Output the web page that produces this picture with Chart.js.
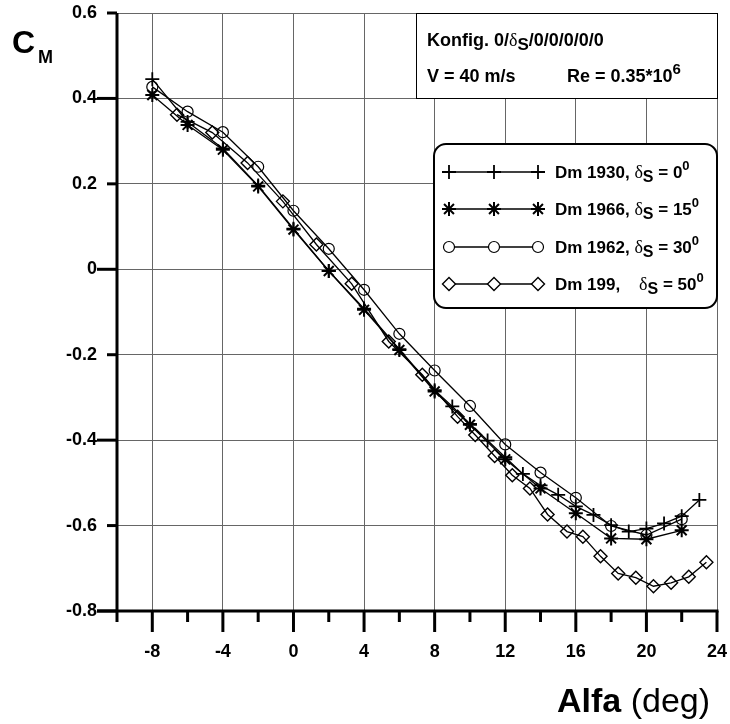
<!DOCTYPE html>
<html>
<head>
<meta charset="utf-8">
<script src="https://cdn.jsdelivr.net/npm/chart.js@4.4.1/dist/chart.umd.min.js"></script>
<style>
  html, body { margin: 0; padding: 0; background: #ffffff; }
  #wrap { width: 730px; height: 724px; }
</style>
</head>
<body>
<div id="wrap"><canvas id="cmChart" width="730" height="724"></canvas></div>
<script>
// Angle of attack (deg) and moment coefficient C_M per configuration
const alpha1930 = [-8, -6, -4, -2, 0, 2, 4, 6, 8, 9, 10, 11, 12, 13, 14, 15, 16, 17, 18, 19, 20, 21, 22, 23];
const cm1930 = [0.445, 0.345, 0.283, 0.196, 0.095, -0.004, -0.092, -0.187, -0.283, -0.321, -0.362, -0.401,
  -0.440, -0.479, -0.506, -0.528, -0.555, -0.575, -0.599, -0.614, -0.607, -0.595, -0.578, -0.540];

const alpha1966 = [-8, -6, -4, -2, 0, 2, 4, 6, 8, 10, 12, 14, 16, 18, 20, 22];
const cm1966 = [0.408, 0.338, 0.280, 0.194, 0.093, -0.004, -0.095, -0.189, -0.286, -0.364, -0.445,
  -0.513, -0.571, -0.630, -0.632, -0.611];

const alpha1962 = [-8, -6, -4, -2, 0, 2, 4, 6, 8, 10, 12, 14, 16, 18, 20, 22];
const cm1962 = [0.427, 0.369, 0.321, 0.240, 0.137, 0.048, -0.048, -0.151, -0.237, -0.320, -0.410,
  -0.476, -0.535, -0.601, -0.622, -0.585];

const alpha199 = [-6.6, -4.6, -2.6, -0.6, 1.3, 3.3, 5.4, 7.3, 9.3, 10.3, 11.4, 12.4, 13.4, 14.4, 15.5,
  16.4, 17.4, 18.4, 19.4, 20.4, 21.4, 22.4, 23.4];
const cm199 = [0.362, 0.320, 0.249, 0.159, 0.058, -0.034, -0.169, -0.247, -0.345, -0.388, -0.437, -0.482,
  -0.513, -0.574, -0.614, -0.626, -0.672, -0.712, -0.722, -0.742, -0.734, -0.720, -0.686];

const seriesNames = ["Dm 1930,", "Dm 1966,", "Dm 1962,", "Dm 199,   "];
const seriesDelta = ["0", "15", "30", "50"];

const xTicks = [-8, -4, 0, 4, 8, 12, 16, 20, 24];

function pts(xs, ys) {
  return xs.map((x, i) => ({ x: x, y: ys[i] }));
}

const SANS = "'Liberation Sans', Arial, sans-serif";
const SERIF = "'Liberation Serif', 'Times New Roman', serif";

function mkSet(label, xs, ys, style, r, lw) {
  return {
    label: label,
    data: pts(xs, ys),
    borderColor: "#000000",
    borderWidth: 1.3,
    pointStyle: style,
    pointRadius: r,
    pointHoverRadius: r,
    pointBorderColor: "#000000",
    pointBackgroundColor: "rgba(0,0,0,0)",
    pointBorderWidth: lw,
    showLine: true,
    fill: false,
    tension: 0,
  };
}

// draw a run of text pieces: [text, font, dy]
function drawRun(ctx, x, y, parts) {
  ctx.textBaseline = "alphabetic";
  ctx.textAlign = "left";
  parts.forEach((p) => {
    ctx.font = p[1];
    ctx.fillText(p[0], x, y + (p[2] || 0));
    x += ctx.measureText(p[0]).width;
  });
  return x;
}

function roundRect(ctx, x, y, w, h, r) {
  ctx.beginPath();
  ctx.moveTo(x + r, y);
  ctx.lineTo(x + w - r, y);
  ctx.arcTo(x + w, y, x + w, y + r, r);
  ctx.lineTo(x + w, y + h - r);
  ctx.arcTo(x + w, y + h, x + w - r, y + h, r);
  ctx.lineTo(x + r, y + h);
  ctx.arcTo(x, y + h, x, y + h - r, r);
  ctx.lineTo(x, y + r);
  ctx.arcTo(x, y, x + r, y, r);
  ctx.closePath();
}

const decor = {
  id: "decor",
  afterDraw(chart) {
    const ctx = chart.ctx;
    const xs = chart.scales.x;
    const ys = chart.scales.y;
    const a = chart.chartArea;
    ctx.save();
    ctx.strokeStyle = "#000";
    ctx.fillStyle = "#000";
    ctx.lineCap = "butt";

    // axes
    ctx.lineWidth = 3;
    ctx.beginPath();
    ctx.moveTo(a.left, a.top);
    ctx.lineTo(a.left, a.bottom + 1.5);
    ctx.moveTo(a.left - 20, a.bottom);
    ctx.lineTo(a.right + 1.5, a.bottom);
    ctx.stroke();

    // x tick marks
    for (let v = -10; v <= 24; v += 2) {
      const px = xs.getPixelForValue(v);
      const len = v % 4 === 0 ? 21 : 11;
      ctx.beginPath();
      ctx.moveTo(px, a.bottom);
      ctx.lineTo(px, a.bottom + len);
      ctx.stroke();
    }
    // y tick marks
    for (let k = -4; k <= 3; k++) {
      const py = ys.getPixelForValue(k * 0.2);
      const len = k % 2 === 0 ? 20 : 10;
      ctx.beginPath();
      ctx.moveTo(a.left, py);
      ctx.lineTo(a.left - len, py);
      ctx.stroke();
    }

    // axis titles
    drawRun(ctx, 12, 53, [["C", "bold 32px " + SANS]]);
    drawRun(ctx, 38, 63, [["M", "bold 18px " + SANS]]);
    drawRun(ctx, 557, 712, [["Alfa", "bold 34px " + SANS], [" (deg)", "34px " + SANS]]);

    // configuration box
    ctx.lineWidth = 1;
    ctx.fillStyle = "#fff";
    ctx.fillRect(416.5, 13.5, 301, 85);
    ctx.strokeRect(416.5, 13.5, 301, 85);
    ctx.fillStyle = "#000";
    drawRun(ctx, 427, 46, [
      ["Konfig. 0/", "bold 18px " + SANS],
      ["\u03B4", "18px " + SERIF],
      ["S", "bold 17px " + SANS, 4],
      ["/0/0/0/0/0", "bold 18px " + SANS],
    ]);
    drawRun(ctx, 427, 82, [["V = 40 m/s", "bold 18px " + SANS]]);
    drawRun(ctx, 567, 82, [["Re = 0.35*10", "bold 18px " + SANS], ["6", "bold 15px " + SANS, -8]]);

    // legend box
    ctx.lineWidth = 2;
    ctx.fillStyle = "#fff";
    roundRect(ctx, 434, 144, 283, 164, 12);
    ctx.fill();
    ctx.stroke();

    const rows = [172, 209, 247, 284];
    chart.data.datasets.forEach((ds, i) => {
      const y = rows[i];
      ctx.strokeStyle = "#000";
      ctx.lineWidth = ds.borderWidth;
      ctx.beginPath();
      ctx.moveTo(449, y);
      ctx.lineTo(538, y);
      ctx.stroke();
      [449, 494, 538].forEach((mx) => {
        ctx.fillStyle = "#fff";
        ctx.strokeStyle = "#000";
        ctx.lineWidth = ds.pointBorderWidth;
        Chart.helpers.drawPoint(ctx, {
          pointStyle: ds.pointStyle,
          radius: ds.pointRadius,
          borderWidth: ds.pointBorderWidth,
          rotation: 0,
        }, mx, y);
      });
      ctx.fillStyle = "#000";
      drawRun(ctx, 555, y + 5.5, [
        [seriesNames[i] + " ", "bold 17px " + SANS],
        ["\u03B4", "18px " + SERIF],
        ["S", "bold 16px " + SANS, 4],
        [" = " + seriesDelta[i], "bold 17px " + SANS],
        ["0", "bold 13px " + SANS, -8],
      ]);
    });
    ctx.restore();
  },
};

const ctxCm = document.getElementById("cmChart").getContext("2d");
let cmChart = new Chart(ctxCm, {
  type: "scatter",
  data: {
    datasets: [
      mkSet("Dm 1930", alpha1930, cm1930, "cross", 7, 1.8),
      mkSet("Dm 1966", alpha1966, cm1966, "star", 7, 2),
      mkSet("Dm 1962", alpha1962, cm1962, "circle", 5.5, 1.2),
      mkSet("Dm 199", alpha199, cm199, "rectRot", 6.5, 1.4),
    ],
  },
  options: {
    responsive: false,
    animation: false,
    events: [],
    layout: { padding: { top: 13, right: 13, left: 0, bottom: 0 } },
    plugins: { legend: { display: false }, tooltip: { enabled: false } },
    scales: {
      x: {
        type: "linear",
        min: -10,
        max: 24,
        afterFit(scale) {
          scale.height = 113;
          scale.paddingLeft = 0;
          scale.paddingRight = 0;
        },
        afterBuildTicks(scale) {
          const t = [];
          for (let v = -10; v <= 24; v += 2) t.push({ value: v });
          scale.ticks = t;
        },
        ticks: {
          autoSkip: false,
          maxRotation: 0,
          padding: 30,
          color: "#000",
          font: { family: SANS, size: 18, weight: "bold" },
          callback: (v) => (xTicks.includes(v) ? String(v) : ""),
        },
        grid: {
          drawTicks: false,
          lineWidth: 1,
          color: (c) => (c.tick && xTicks.includes(c.tick.value) ? "#666" : "rgba(0,0,0,0)"),
        },
        border: { display: false },
      },
      y: {
        type: "linear",
        min: -0.8,
        max: 0.6,
        afterFit(scale) {
          scale.width = 117;
          scale.paddingTop = 0;
          scale.paddingBottom = 0;
        },
        ticks: {
          stepSize: 0.2,
          padding: 20,
          color: "#000",
          font: { family: SANS, size: 18, weight: "bold" },
          callback: (v) => {
            const r = Math.round(v * 10) / 10;
            return r === 0 ? "0" : r.toFixed(1);
          },
        },
        grid: { drawTicks: false, lineWidth: 1, color: "#666" },
        border: { display: false },
      },
    },
  },
  plugins: [decor],
});
</script>
</body>
</html>
